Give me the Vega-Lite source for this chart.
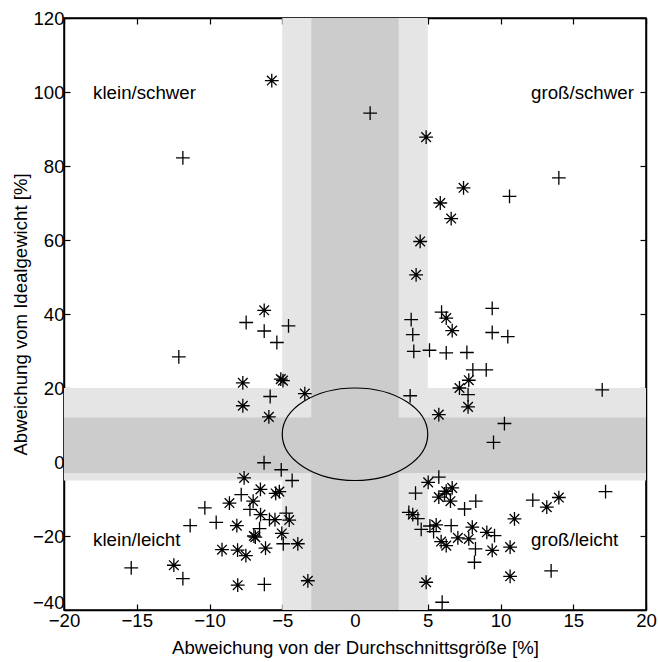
{
  "$schema": "https://vega.github.io/schema/vega-lite/v6.json",
  "width": 582,
  "height": 592,
  "autosize": "none",
  "padding": {"left": 64, "top": 18, "right": 12, "bottom": 52},
  "config": {
    "view": {"stroke": "black", "strokeWidth": 1.5},
    "font": "Liberation Sans",
    "axis": {
      "grid": false,
      "labelFont": "Liberation Sans",
      "titleFont": "Liberation Sans",
      "labelFontSize": 18.6,
      "titleFontSize": 18.6,
      "titleFontWeight": "normal",
      "labelColor": "black",
      "titleColor": "black",
      "domainColor": "black",
      "domainWidth": 1.5,
      "tickColor": "black",
      "tickWidth": 1.2,
      "tickSize": -6,
      "labelOverlap": false,
      "labelBound": false,
      "labelFlush": false
    }
  },
  "layer": [
    {
      "data": {"values": [
        {"x1": -5, "x2": 5, "y1": -40, "y2": 120, "shade": "light"},
        {"x1": -20, "x2": 20, "y1": -5, "y2": 20, "shade": "light"},
        {"x1": -3, "x2": 3, "y1": -40, "y2": 120, "shade": "dark"},
        {"x1": -20, "x2": 20, "y1": -3, "y2": 12, "shade": "dark"}
      ]},
      "mark": {"type": "rect"},
      "encoding": {
        "x": {"field": "x1", "type": "quantitative", "scale": {"domain": [-20, 20], "nice": false, "zero": false},
              "axis": {"orient": "bottom", "values": [-20, -15, -10, -5, 0, 5, 10, 15, 20], "title": "Abweichung von der Durchschnittsgröße [%]", "labelPadding": 7, "titlePadding": 9}},
        "x2": {"field": "x2"},
        "y": {"field": "y1", "type": "quantitative", "scale": {"domain": [-40, 120], "nice": false, "zero": false},
              "axis": {"orient": "left", "values": [-40, -20, 0, 20, 40, 60, 80, 100, 120], "title": "Abweichung vom Idealgewicht [%]", "labelPadding": 6, "titlePadding": 2,
                       "labelBaseline": {"condition": {"test": "datum.value == -40", "value": "bottom"}, "value": "middle"},
                       "labelOffset": {"condition": {"test": "datum.value == -40", "value": 2}, "value": 0}}},
        "y2": {"field": "y2"},
        "color": {"field": "shade", "type": "nominal", "scale": {"domain": ["light", "dark"], "range": ["#e5e5e5", "#cccccc"]}, "legend": null}
      }
    },
    {
      "data": {"values": [{"cx": 0, "cy": 7.5}]},
      "mark": {"type": "point", "shape": "M -1 0 A 1 0.636 0 1 0 1 0 A 1 0.636 0 1 0 -1 0 Z", "filled": false, "stroke": "black", "strokeWidth": 1.2, "size": 21170, "opacity": 1},
      "encoding": {
        "x": {"field": "cx", "type": "quantitative", "scale": {"domain": [-20, 20], "nice": false, "zero": false}, "axis": null},
        "y": {"field": "cy", "type": "quantitative", "scale": {"domain": [-40, 120], "nice": false, "zero": false}, "axis": null}
      }
    },
    {
      "data": {"values": [
        {"x": -5.72, "y": 103.1, "type": "star"},
        {"x": -11.83, "y": 82.2, "type": "plus"},
        {"x": 1.04, "y": 94.3, "type": "plus"},
        {"x": 4.89, "y": 87.8, "type": "star"},
        {"x": 7.46, "y": 74.1, "type": "star"},
        {"x": 10.62, "y": 71.8, "type": "plus"},
        {"x": 14.01, "y": 76.8, "type": "plus"},
        {"x": 5.86, "y": 70.0, "type": "star"},
        {"x": 6.61, "y": 65.8, "type": "star"},
        {"x": 4.48, "y": 59.6, "type": "star"},
        {"x": 4.2, "y": 50.6, "type": "star"},
        {"x": 9.43, "y": 41.5, "type": "plus"},
        {"x": 5.95, "y": 40.5, "type": "plus"},
        {"x": 3.86, "y": 38.5, "type": "plus"},
        {"x": 3.97, "y": 34.4, "type": "plus"},
        {"x": 4.04, "y": 29.9, "type": "plus"},
        {"x": 5.12, "y": 30.2, "type": "plus"},
        {"x": 6.27, "y": 29.5, "type": "plus"},
        {"x": 7.69, "y": 29.6, "type": "plus"},
        {"x": 6.27, "y": 38.9, "type": "star"},
        {"x": 6.68, "y": 35.5, "type": "star"},
        {"x": 9.43, "y": 35.0, "type": "plus"},
        {"x": 10.5, "y": 33.9, "type": "plus"},
        {"x": 8.1, "y": 24.9, "type": "plus"},
        {"x": 9.02, "y": 24.9, "type": "plus"},
        {"x": 7.82, "y": 22.1, "type": "star"},
        {"x": 7.18, "y": 20.0, "type": "star"},
        {"x": 7.77, "y": 18.2, "type": "plus"},
        {"x": 7.77, "y": 14.9, "type": "star"},
        {"x": 3.79, "y": 17.9, "type": "plus"},
        {"x": 5.76, "y": 12.8, "type": "star"},
        {"x": 10.27, "y": 10.4, "type": "plus"},
        {"x": 9.52, "y": 5.3, "type": "plus"},
        {"x": 16.99, "y": 19.5, "type": "plus"},
        {"x": -6.24, "y": 41.0, "type": "star"},
        {"x": -7.48, "y": 37.7, "type": "plus"},
        {"x": -6.24, "y": 35.4, "type": "plus"},
        {"x": -4.57, "y": 36.8, "type": "plus"},
        {"x": -5.37, "y": 32.3, "type": "plus"},
        {"x": -12.11, "y": 28.4, "type": "plus"},
        {"x": -7.71, "y": 21.4, "type": "star"},
        {"x": -5.1, "y": 22.4, "type": "star"},
        {"x": -4.95, "y": 22.0, "type": "star"},
        {"x": -5.83, "y": 17.7, "type": "plus"},
        {"x": -3.45, "y": 18.5, "type": "star"},
        {"x": -7.71, "y": 15.2, "type": "star"},
        {"x": -5.92, "y": 12.2, "type": "star"},
        {"x": -6.25, "y": -0.2, "type": "plus"},
        {"x": -5.07, "y": -2.1, "type": "plus"},
        {"x": -4.32, "y": -5.0, "type": "plus"},
        {"x": -7.62, "y": -4.3, "type": "star"},
        {"x": -7.82, "y": -8.8, "type": "plus"},
        {"x": -6.5, "y": -7.4, "type": "star"},
        {"x": -5.45, "y": -8.5, "type": "star"},
        {"x": -5.2, "y": -8.0, "type": "star"},
        {"x": -8.63, "y": -11.1, "type": "star"},
        {"x": -7.0, "y": -10.6, "type": "star"},
        {"x": -7.22, "y": -12.8, "type": "plus"},
        {"x": -6.49, "y": -14.2, "type": "star"},
        {"x": -4.73, "y": -13.8, "type": "plus"},
        {"x": -11.33, "y": -17.2, "type": "plus"},
        {"x": -10.32, "y": -12.4, "type": "plus"},
        {"x": -9.54, "y": -16.3, "type": "plus"},
        {"x": -8.12, "y": -17.2, "type": "star"},
        {"x": -5.5, "y": -15.6, "type": "star"},
        {"x": -5.88, "y": -15.6, "type": "plus"},
        {"x": -4.52, "y": -15.7, "type": "star"},
        {"x": -6.56, "y": -18.0, "type": "plus"},
        {"x": -6.95, "y": -20.0, "type": "star"},
        {"x": -6.85, "y": -20.3, "type": "star"},
        {"x": -5.03, "y": -19.3, "type": "star"},
        {"x": -4.93, "y": -22.1, "type": "plus"},
        {"x": -3.93, "y": -22.1, "type": "star"},
        {"x": -9.14, "y": -23.7, "type": "star"},
        {"x": -8.07, "y": -23.8, "type": "star"},
        {"x": -7.5, "y": -25.3, "type": "star"},
        {"x": -6.15, "y": -23.3, "type": "star"},
        {"x": -15.38, "y": -28.6, "type": "plus"},
        {"x": -12.45, "y": -27.9, "type": "star"},
        {"x": -11.83, "y": -31.5, "type": "plus"},
        {"x": -8.06, "y": -33.3, "type": "star"},
        {"x": -6.23, "y": -33.1, "type": "plus"},
        {"x": -3.24, "y": -32.1, "type": "star"},
        {"x": 5.03, "y": -5.5, "type": "star"},
        {"x": 5.76, "y": -4.1, "type": "plus"},
        {"x": 4.16, "y": -8.4, "type": "plus"},
        {"x": 5.76, "y": -9.5, "type": "star"},
        {"x": 6.27, "y": -7.9, "type": "star"},
        {"x": 6.68, "y": -7.0, "type": "star"},
        {"x": 6.56, "y": -10.6, "type": "star"},
        {"x": 6.15, "y": -8.6, "type": "plus"},
        {"x": 7.53, "y": -12.7, "type": "plus"},
        {"x": 8.3, "y": -10.6, "type": "plus"},
        {"x": 12.22, "y": -10.3, "type": "plus"},
        {"x": 13.18, "y": -12.2, "type": "star"},
        {"x": 14.01, "y": -9.6, "type": "star"},
        {"x": 17.22, "y": -8.0, "type": "plus"},
        {"x": 10.96, "y": -15.35, "type": "star"},
        {"x": 3.7, "y": -13.6, "type": "plus"},
        {"x": 3.97, "y": -14.2, "type": "star"},
        {"x": 4.32, "y": -15.3, "type": "plus"},
        {"x": 4.55, "y": -18.2, "type": "plus"},
        {"x": 5.15, "y": -17.3, "type": "plus"},
        {"x": 5.58, "y": -17.0, "type": "star"},
        {"x": 5.4, "y": -18.8, "type": "plus"},
        {"x": 6.61, "y": -17.2, "type": "plus"},
        {"x": 5.92, "y": -21.5, "type": "star"},
        {"x": 6.27, "y": -22.6, "type": "star"},
        {"x": 7.07, "y": -20.5, "type": "star"},
        {"x": 7.82, "y": -20.8, "type": "star"},
        {"x": 8.06, "y": -17.6, "type": "star"},
        {"x": 9.06, "y": -19.0, "type": "star"},
        {"x": 9.59, "y": -19.9, "type": "plus"},
        {"x": 8.28, "y": -23.5, "type": "plus"},
        {"x": 8.21, "y": -27.1, "type": "plus"},
        {"x": 9.43, "y": -23.9, "type": "star"},
        {"x": 10.66, "y": -23.0, "type": "star"},
        {"x": 10.66, "y": -30.9, "type": "star"},
        {"x": 4.89, "y": -32.5, "type": "star"},
        {"x": 5.99, "y": -37.9, "type": "plus"},
        {"x": 13.48, "y": -29.4, "type": "plus"}
      ]},
      "mark": {"type": "point", "filled": false, "stroke": "black", "strokeWidth": 1.3, "size": 190, "opacity": 1},
      "encoding": {
        "x": {"field": "x", "type": "quantitative", "scale": {"domain": [-20, 20], "nice": false, "zero": false}, "axis": null},
        "y": {"field": "y", "type": "quantitative", "scale": {"domain": [-40, 120], "nice": false, "zero": false}, "axis": null},
        "shape": {"field": "type", "type": "nominal", "scale": {"domain": ["plus", "star"], "range": ["M -1 0 L 1 0 M 0 -1 L 0 1", "M -1 0 L 1 0 M 0 -1 L 0 1 M -0.7 -0.7 L 0.7 0.7 M -0.7 0.7 L 0.7 -0.7"]}, "legend": null}
      }
    },
    {
      "data": {"values": [
        {"tx": -18, "ty": 99.6, "label": "klein/schwer"},
        {"tx": 12.1, "ty": 99.6, "label": "groß/schwer"},
        {"tx": -18, "ty": -21.2, "label": "klein/leicht"},
        {"tx": 12.1, "ty": -21.2, "label": "groß/leicht"}
      ]},
      "mark": {"type": "text", "align": "left", "baseline": "middle", "font": "Liberation Sans", "fontSize": 18.7, "color": "black"},
      "encoding": {
        "x": {"field": "tx", "type": "quantitative", "scale": {"domain": [-20, 20], "nice": false, "zero": false}, "axis": null},
        "y": {"field": "ty", "type": "quantitative", "scale": {"domain": [-40, 120], "nice": false, "zero": false}, "axis": null},
        "text": {"field": "label", "type": "nominal"}
      }
    },
    {
      "data": {"values": [{"ax": 0, "ay": 0}]},
      "mark": {"type": "point", "opacity": 0},
      "encoding": {
        "x": {"field": "ax", "type": "quantitative", "scale": {"domain": [-20, 20], "nice": false, "zero": false},
              "axis": {"orient": "top", "values": [-20, -15, -10, -5, 0, 5, 10, 15, 20], "labels": false, "title": null}},
        "y": {"field": "ay", "type": "quantitative", "scale": {"domain": [-40, 120], "nice": false, "zero": false},
              "axis": {"orient": "right", "values": [-40, -20, 0, 20, 40, 60, 80, 100, 120], "labels": false, "title": null}}
      }
    }
  ],
  "resolve": {"axis": {"x": "independent", "y": "independent"}}
}
